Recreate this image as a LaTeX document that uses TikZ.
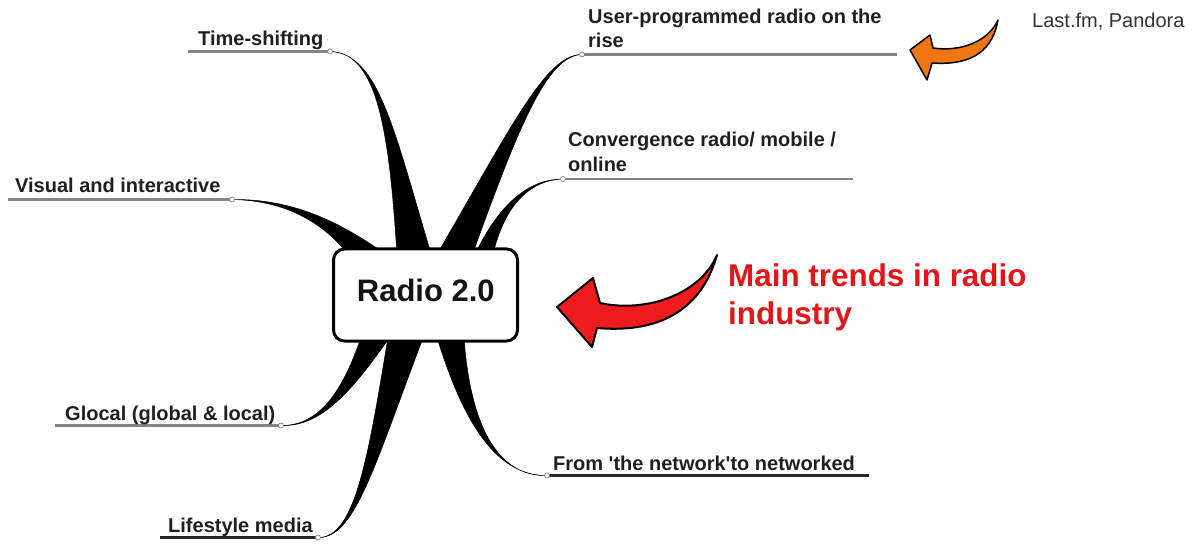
\documentclass[tikz,border=0pt]{standalone}
\usepackage{fontspec}
\setmainfont{Liberation Sans}
\usetikzlibrary{calc}
\definecolor{trendred}{RGB}{226,22,24}
\definecolor{arrowred}{RGB}{238,28,30}
\definecolor{arroworange}{RGB}{240,118,20}
\begin{document}
\begin{tikzpicture}[x=1pt,y=-1pt,
  lab/.style={anchor=base west, inner sep=0pt, font=\fontsize{20}{24}\selectfont\bfseries, text=black!88},
  leader/.style={line width=2.6pt, draw=black!48},
  leaderdark/.style={line width=2.4pt, draw=black!85},
  joint/.style={circle, draw=black!50, fill=white, line width=0.7pt, inner sep=0pt, minimum size=5pt},
  limb/.style={fill=black, draw=black, line width=0.5pt, line join=round},
  bigarrow/.style={draw=black, line width=2pt, line join=round},
]
\useasboundingbox (0,0) rectangle (1196,545);

% joints where the limbs meet the label rules
\coordinate (jTime) at (330,51.5);
\coordinate (jUser) at (582,54.5);
\coordinate (jConv) at (563,179);
\coordinate (jVis)  at (232,199.5);
\coordinate (jGlo)  at (281,425.5);
\coordinate (jLife) at (318,537.5);
\coordinate (jNet)  at (547,475.5);

% free ends of the label rules
\coordinate (eTime) at (188,51.5);
\coordinate (eUser) at (897,54.5);
\coordinate (eConv) at (853,179);
\coordinate (eVis)  at (8,199.5);
\coordinate (eGlo)  at (55,425.5);
\coordinate (eLife) at (160,537.5);
\coordinate (eNet)  at (869,475.5);

% tapered limbs from the central topic (thin at the joint, wide under the box)
\fill[limb] (jTime) .. controls (380,52) and (390,140) .. (398,270)
  -- (436,270) .. controls (396,140) and (381,53) .. (jTime) -- cycle;
\fill[limb] (jUser) .. controls (545,54) and (510,130) .. (425,275)
  -- (465,275) .. controls (517,130) and (546,55.5) .. (jUser) -- cycle;
\fill[limb] (jConv) .. controls (528,179) and (495,205) .. (468,270)
  -- (490,270) .. controls (500,207) and (529,180) .. (jConv) -- cycle;
\fill[limb] (jVis) .. controls (285,199) and (335,215) .. (400,265)
  -- (358,268) .. controls (328,222) and (285,200.5) .. (jVis) -- cycle;
\fill[limb] (jGlo) .. controls (320,426) and (345,390) .. (365,325)
  -- (398,325) .. controls (352,393) and (321,427) .. (jGlo) -- cycle;
\fill[limb] (jLife) .. controls (355,538) and (368,460) .. (390,325)
  -- (428,325) .. controls (376,460) and (356,539) .. (jLife) -- cycle;
\fill[limb] (jNet) .. controls (495,476) and (460,420) .. (432,320)
  -- (463,320) .. controls (467,422) and (496,477) .. (jNet) -- cycle;

% central topic
\node[draw, line width=3pt, rounded corners=11pt, fill=white,
      minimum width=184pt, minimum height=92pt, inner sep=0pt] (radio) at (425.5,295) {};
\node[anchor=base, inner sep=0pt, font=\fontsize{31}{36}\selectfont\bfseries, text=black!92]
      (radiotxt) at (425.8,301.5) {Radio 2.0};

% label rules
\draw[leader] (eTime) -- (jTime);
\draw[leader] (eUser) -- (jUser);
\draw[leader] (eConv) -- (jConv);
\draw[leader] (eVis) -- (jVis);
\draw[leader] (eGlo) -- (jGlo);
\draw[leaderdark] (eLife) -- (jLife);
\draw[leaderdark] (eNet) -- (jNet);

\node[joint] (kTime) at (jTime) {};
\node[joint] (kUser) at (jUser) {};
\node[joint] (kConv) at (jConv) {};
\node[joint] (kVis)  at (jVis) {};
\node[joint] (kGlo)  at (jGlo) {};
\node[joint] (kLife) at (jLife) {};
\node[joint] (kNet)  at (jNet) {};

% labels
\node[lab] (tTime)  at (198,46)  {Time-shifting};
\node[lab] (tUserA) at (588,24)  {User-programmed radio on the};
\node[lab] (tUserB) at (588,48)  {rise};
\node[lab] (tConvA) at (568,147) {Convergence radio/ mobile /};
\node[lab] (tConvB) at (568,172) {online};
\node[lab] (tVis)   at (15,193)  {Visual and interactive};
\node[lab] (tGlo)   at (65,420)  {Glocal (global \& local)};
\node[lab] (tLife)  at (168,532) {Lifestyle media};
\node[lab] (tNet)   at (553,470) {From \textquotesingle the network\textquotesingle to networked};

% callout: main trends
\filldraw[bigarrow, fill=arrowred] (557,307) -- (593,278) -- (600,303)
  .. controls (645,313) and (700,295) .. (717,255)
  .. controls (703,305) and (665,334) .. (597,328) -- (592,347) -- cycle;
\node[anchor=base west, inner sep=0pt, font=\fontsize{31.4}{36}\selectfont\bfseries, text=trendred]
  (trendA) at (728,287) {Main trends in radio};
\node[anchor=base west, inner sep=0pt, font=\fontsize{31.4}{36}\selectfont\bfseries, text=trendred]
  (trendB) at (728,324) {industry};

% callout: examples of user-programmed radio
\filldraw[bigarrow, line width=1.5pt, fill=arroworange] (910,50) -- (930,35) -- (933,48)
  .. controls (960,52) and (988,42) .. (998,20)
  .. controls (993,48) and (975,66) .. (932,63) -- (927,80) -- cycle;
\node[anchor=base west, inner sep=0pt, font=\fontsize{20}{24}\selectfont, text=black!80]
  (lastfm) at (1032,28) {Last.fm, Pandora};
\end{tikzpicture}
\end{document}
